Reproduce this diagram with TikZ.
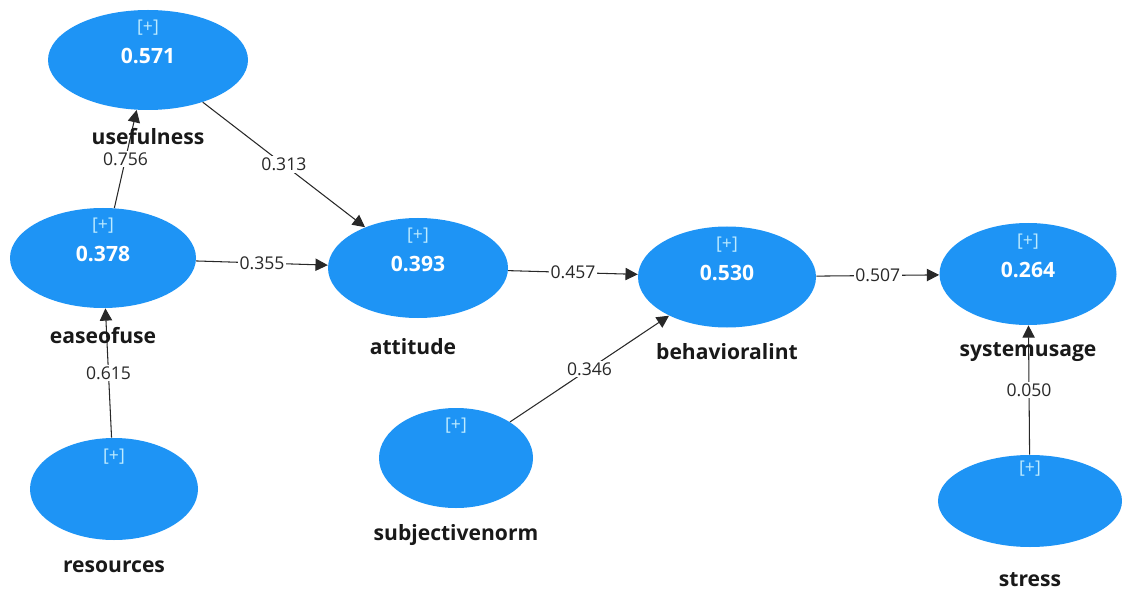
\documentclass[tikz,border=0pt]{standalone}
\usepackage{fontspec}
\setmainfont{Open Sans}
\usetikzlibrary{arrows.meta, positioning, shapes.geometric}
\definecolor{plsblue}{RGB}{30,148,245}
\definecolor{pluscyan}{RGB}{190,235,255}
\definecolor{inkgray}{RGB}{40,40,40}

\begin{document}
\begin{tikzpicture} [%
    >= { Triangle[length=7pt, width=7pt] },
    on grid,
    every edge/.style = {%
      draw = inkgray,
      line width = 0.6pt,
      ->},
    latent/.style = {%
      ellipse,
      fill = plsblue,
      draw = none,
      inner sep = 0pt,
      label = {[text=pluscyan, yshift=0.64cm,
                font=\fontsize{10}{12}\selectfont]center:[+]}},
    rsq/.style = {%
      label = {[text=white, yshift=0.08cm,
                font=\bfseries\fontsize{12}{14}\selectfont]center:#1}},
    varname/.style = {%
      text = black!90,
      font = \bfseries\fontsize{12}{14}\selectfont},
    coef/.style = {%
      fill = white,
      inner sep = 1pt,
      text = inkgray,
      font = \fontsize{10}{12}\selectfont}
  ]

  \useasboundingbox (0,0) rectangle (22.44cm,11.8cm);

  % latent variables
  \node[latent, rsq=0.378, minimum width=3.72cm, minimum height=2cm]
    (E) at (2.06cm,6.64cm) {};
  \node[latent, rsq=0.571, minimum width=4cm, minimum height=2cm]
    (U) [above right=3.96cm and 0.9cm of E] {};
  \node[latent, rsq=0.393, minimum width=3.6cm, minimum height=2cm]
    (A) [below right=0.2cm and 6.3cm of E] {};
  \node[latent, rsq=0.530, minimum width=3.56cm, minimum height=2.02cm]
    (B) [below right=0.18cm and 6.18cm of A] {};
  \node[latent, rsq=0.264, minimum width=3.54cm, minimum height=2.04cm]
    (S) [above right=0.06cm and 6.02cm of B] {};
  \node[latent, minimum width=3.68cm, minimum height=1.84cm]
    (T) [below right=4.54cm and 0.04cm of S] {};
  \node[latent, minimum width=3.36cm, minimum height=2.04cm]
    (R) [below right=4.62cm and 0.22cm of E] {};
  \node[latent, minimum width=3.08cm, minimum height=2cm]
    (N) [below right=3.8cm and 0.76cm of A] {};

  % paths
  \path
  (E) edge node[coef] {0.756} (U)
  (U) edge node[coef] {0.313} (A)
  (E) edge node[coef] {0.355} (A)
  (R) edge node[coef] {0.615} (E)
  (A) edge node[coef] {0.457} (B)
  (N) edge node[coef] {0.346} (B)
  (B) edge node[coef] {0.507} (S)
  (T) edge node[coef] {0.050} (S);

  % names
  \node[varname] (Ulab) [below=1.54cm of U] {usefulness};
  \node[varname] (Elab) [below=1.56cm of E] {easeofuse};
  \node[varname] (Alab) [below left=1.58cm and 0.1cm of A] {attitude};
  \node[varname] (Blab) [below=1.5cm of B] {behavioralint};
  \node[varname] (Slab) [below=1.56cm of S] {systemusage};
  \node[varname] (Rlab) [below=1.56cm of R] {resources};
  \node[varname] (Nlab) [below=1.54cm of N] {subjectivenorm};
  \node[varname] (Tlab) [below=1.58cm of T] {stress};

\end{tikzpicture}
\end{document}
